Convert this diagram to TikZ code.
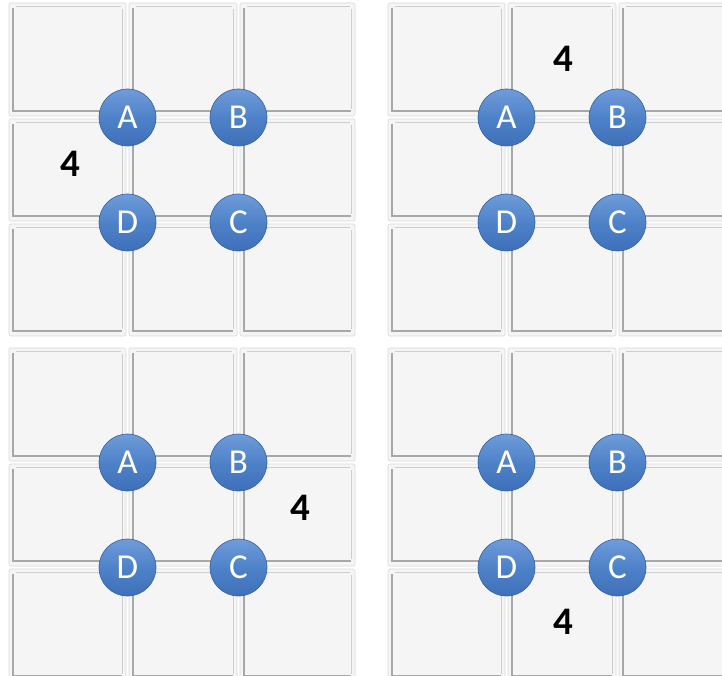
\documentclass[tikz,border=0pt]{standalone}
\usepackage{fontspec}
\setmainfont{Carlito}
\definecolor{cellfill}{RGB}{245,245,245}
\definecolor{celledge}{RGB}{218,218,218}
\definecolor{beveldark}{RGB}{168,168,168}
\definecolor{bevellight}{RGB}{205,205,205}
\definecolor{balltop}{RGB}{112,156,218}
\definecolor{ballmid}{RGB}{78,130,200}
\definecolor{ballbot}{RGB}{62,112,185}
\definecolor{balledge}{RGB}{52,95,158}
\newcommand\mycell[4]{%
  \filldraw[cellbox] (#1,#2) rectangle (#3,#4);
  \draw[bevelD] (#1+4,#2+5) -- (#1+4,#4-5) -- (#3-4,#4-5);
  \draw[bevelL] (#1+7,#2+3) -- (#3-5,#2+3);
  \draw[bevelL] (#3-4,#2+6) -- (#3-4,#4-7);
}
\begin{document}
\begin{tikzpicture}[x=1pt,y=-1pt,
  cellbox/.style={fill=cellfill,draw=celledge,line width=0.6pt,rounded corners=2pt},
  bevelD/.style={draw=beveldark,line width=1.4pt},
  bevelL/.style={draw=bevellight,line width=0.7pt},
  ball/.style={circle,minimum size=57pt,inner sep=0pt,draw=balledge,line width=0.6pt,
    top color=balltop,bottom color=ballbot,middle color=ballmid,
    text=white,font=\fontsize{35}{35}\selectfont},
  four/.style={font=\bfseries\fontsize{39}{39}\selectfont,text=black,inner sep=0pt}]
\useasboundingbox (0,0) rectangle (722,676);
\fill[white] (0,0) rectangle (722,676);
\begin{scope}
\clip (0,0) rectangle (722,676);
\foreach \p/\ox/\oy in {1/0/0,2/379/0,3/0/345,4/379/345}{
  \begin{scope}[shift={(\ox,\oy)}]
    \foreach \xa/\xb in {9/126,129/237,240/355}{
      \foreach \ya/\yb in {3/116,119/221,224/336}{
        \mycell{\xa}{\ya}{\xb}{\yb}
      }
    }
    \node[ball] (A\p) at (127.5,117.5) {A};
    \node[ball] (B\p) at (238.5,117.5) {B};
    \node[ball] (D\p) at (127.5,222.5) {D};
    \node[ball] (C\p) at (238.5,222.5) {C};
  \end{scope}
}
\end{scope}
\node[four] (n1) at (70,164) {4};
\node[four] (n2) at (563,59) {4};
\node[four] (n3) at (300,508) {4};
\node[four] (n4) at (563,622) {4};
\end{tikzpicture}
\end{document}
